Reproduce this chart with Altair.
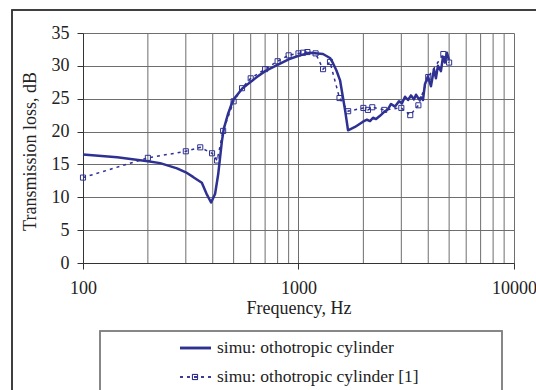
import altair as alt
import pandas as pd

# ---- data ----
sim_freq = [100, 144, 200, 228, 273, 300, 324, 356, 376, 393,
            410, 424, 441, 450, 470, 497, 550, 641, 700, 795,
            900, 1016, 1130, 1299, 1400, 1446, 1500, 1559, 1600, 1644,
            1698, 1829, 1992, 2078, 2147, 2217, 2290, 2389, 2520, 2603,
            2688, 2805, 2926, 3022, 3121, 3223, 3328, 3437, 3510, 3625,
            3702, 3781, 3861, 3987, 4117, 4252, 4342, 4435, 4580, 4684,
            4783, 4885, 4989]
sim_tl = [16.5, 16.1, 15.5, 15.2, 14.4, 13.8, 13.1, 12.2, 10.4, 9.2,
          10.5, 13.5, 18.5, 20.4, 22.6, 24.8, 26.6, 28.3, 29.2, 30.1,
          31.0, 31.6, 32.0, 31.8, 31.2, 30.4, 29.3, 27.8, 25.6, 23.3,
          20.2, 20.7, 21.5, 21.8, 21.6, 22.1, 21.9, 22.4, 23.1, 23.4,
          24.2, 23.8, 24.6, 24.3, 25.3, 24.8, 25.5, 24.9, 25.6, 24.9,
          25.2, 24.8, 27.2, 28.4, 26.9, 29.5, 28.1, 30.0, 29.2, 31.4,
          30.5, 32.0, 30.9]

ref_freq = [100, 200, 300, 350, 397, 419, 447, 500, 547, 600,
            700, 800, 900, 1000, 1050, 1100, 1200, 1300, 1400, 1550,
            1700, 2000, 2100, 2200, 2500, 3000, 3300, 3600, 4000, 4700,
            5000]
ref_tl = [13.0, 16.0, 17.0, 17.6, 16.7, 15.6, 20.1, 24.6, 26.6, 28.1,
          29.5, 30.7, 31.6, 31.9, 32.0, 32.1, 31.9, 29.5, 30.6, 25.1,
          23.1, 23.6, 23.3, 23.7, 23.3, 23.6, 22.5, 24.0, 28.3, 31.8,
          30.5]

series_names = ["simu: othotropic cylinder", "simu: othotropic cylinder [1]"]
x_ticks = [100, 1000, 10000]
minor_grid = [200, 300, 400, 500, 600, 700, 800, 900,
              2000, 3000, 4000, 5000, 6000, 7000, 8000, 9000]
y_ticks = [0, 5, 10, 15, 20, 25, 30, 35]

# ---- styling ----
W, H = 431, 230
LINE = "#2E3192"
FONT = "Liberation Serif, Times New Roman, serif"
GRID = "#6e6e6e"
TXT = "#222222"

x_scale = alt.Scale(type="log", domain=[100, 10000])
y_scale = alt.Scale(domain=[0, 35])

x_enc = alt.X("f:Q", scale=x_scale, title="Frequency, Hz", axis=alt.Axis(
    values=x_ticks, format="d", grid=True, gridColor=GRID, labelFlush=False,
    domainColor="#333", tickColor="#333", tickSize=6,
    labelFont=FONT, labelFontSize=18, labelColor=TXT, labelPadding=10,
    titleFont=FONT, titleFontSize=18,
    titleFontWeight="normal", titleColor=TXT,
    titleY=50, titleBaseline="alphabetic"))
y_enc = alt.Y("tl:Q", scale=y_scale, title="Transmission loss, dB", axis=alt.Axis(
    values=y_ticks, grid=True, gridColor=GRID, labelFlush=False,
    domainColor="#333", tickColor="#333", tickSize=6,
    labelFont=FONT, labelFontSize=18, labelColor=TXT, labelPadding=8,
    titleFont=FONT, titleFontSize=18,
    titleFontWeight="normal", titleColor=TXT,
    titleX=-48, titleY=118, titleBaseline="alphabetic"))

sim_df = pd.DataFrame({"f": sim_freq, "tl": sim_tl})
ref_df = pd.DataFrame({"f": ref_freq, "tl": ref_tl})
grid_df = pd.DataFrame({"f": minor_grid})

minor = alt.Chart(grid_df).mark_rule(color=GRID, strokeWidth=1).encode(x=x_enc)

ref_line = alt.Chart(ref_df).mark_line(
    color=LINE, strokeWidth=1.5, strokeDash=[3, 4]
).encode(x=x_enc, y=y_enc)
ref_pts = alt.Chart(ref_df).mark_point(
    shape="square", filled=False, color=LINE, size=26, strokeWidth=1, opacity=1
).encode(x=x_enc, y=y_enc)

sim_line = alt.Chart(sim_df).mark_line(
    color=LINE, strokeWidth=2.5, strokeJoin="round"
).encode(x=x_enc, y=y_enc)

# ---- frame and manual legend ----
base = alt.Chart(pd.DataFrame({"name": series_names}))

outer = base.mark_rect(fillOpacity=0, stroke="#333", strokeWidth=1.5).encode(
    x=alt.value(-71), x2=alt.value(480), y=alt.value(-23), y2=alt.value(420)
)
leg_box = base.mark_rect(fillOpacity=0, stroke="#808080", strokeWidth=1.5).encode(
    x=alt.value(17), x2=alt.value(419), y=alt.value(298), y2=alt.value(420)
)
leg_line1 = base.mark_rule(color=LINE, strokeWidth=2.5).encode(
    x=alt.value(97), x2=alt.value(128), y=alt.value(315)
)
leg_line2 = base.mark_rule(color=LINE, strokeWidth=1.5, strokeDash=[3, 4]).encode(
    x=alt.value(97), x2=alt.value(128), y=alt.value(344)
)
leg_pt2 = base.mark_point(shape="square", filled=False, color=LINE, size=26,
                          strokeWidth=1, opacity=1).encode(
    x=alt.value(112), y=alt.value(344)
)
leg_txt1 = alt.Chart(pd.DataFrame({"name": series_names[:1]})).mark_text(
    font=FONT, fontSize=17.5, color=TXT, align="left", baseline="middle"
).encode(x=alt.value(134), y=alt.value(315), text="name:N")
leg_txt2 = alt.Chart(pd.DataFrame({"name": series_names[1:]})).mark_text(
    font=FONT, fontSize=17.5, color=TXT, align="left", baseline="middle"
).encode(x=alt.value(134), y=alt.value(344), text="name:N")

chart = alt.layer(
    minor, ref_line, ref_pts, sim_line,
    outer, leg_box, leg_line1, leg_line2, leg_pt2, leg_txt1, leg_txt2
).properties(
    width=W, height=H,
    autosize=alt.AutoSizeParams(type="none"),
    padding={"left": 83, "top": 33, "right": 22, "bottom": 127},
    background="white",
).configure_view(strokeWidth=0)

chart.save("out.html", embed_options={"renderer": "svg", "actions": False})
